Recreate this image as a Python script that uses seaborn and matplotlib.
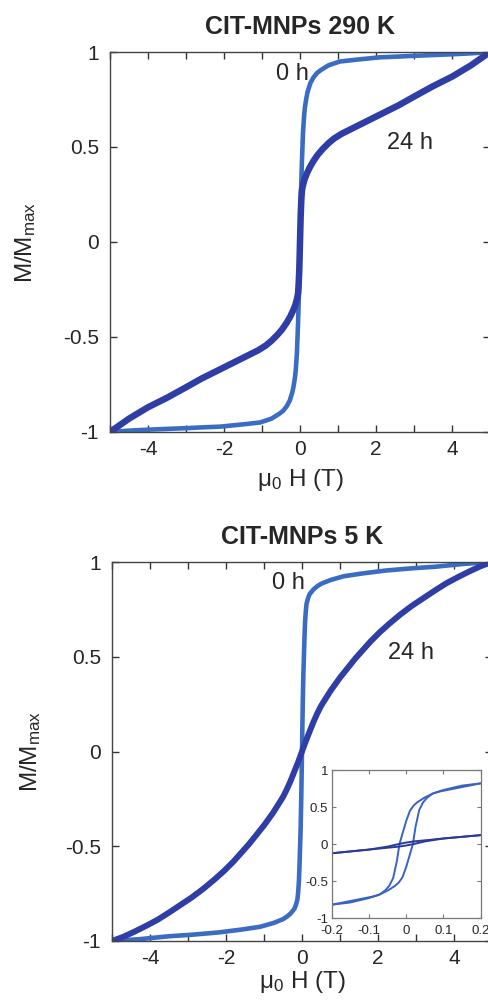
import numpy as np
import pandas as pd
import matplotlib
matplotlib.use("Agg")
import matplotlib.pyplot as plt
import seaborn as sns
from matplotlib.ticker import FixedLocator, FixedFormatter

# ---------------- data (positive-field half; loops are point-symmetric) ----------------
h_290_0h = [0, 0.01, 0.02, 0.035, 0.05, 0.08, 0.11, 0.13, 0.17, 0.2, 0.27, 0.35, 0.45, 0.55, 0.75,
            1.05, 1.5, 2.1, 2.6, 3.0, 3.5, 4.0, 4.5, 5.0]
m_290_0h = [0, 0.11, 0.2, 0.32, 0.42, 0.58, 0.67, 0.71, 0.76, 0.79, 0.835, 0.865, 0.89, 0.905, 0.93,
            0.95, 0.96, 0.972, 0.976, 0.98, 0.984, 0.988, 0.993, 1.0]
h_290_24h = [0, 0.01, 0.02, 0.035, 0.05, 0.08, 0.12, 0.18, 0.25, 0.35, 0.47, 0.6, 0.75, 0.9, 1.1, 1.3,
             1.5, 1.7, 2.0, 2.2, 2.6, 3.0, 3.5, 4.0, 4.5, 5.0]
m_290_24h = [0, 0.08, 0.15, 0.22, 0.27, 0.30, 0.33, 0.36, 0.39, 0.425, 0.46, 0.49, 0.52, 0.545, 0.57, 0.59,
             0.61, 0.63, 0.66, 0.68, 0.72, 0.765, 0.82, 0.87, 0.93, 1.0]

h_5_0h = [0, 0.01, 0.02, 0.035, 0.05, 0.065, 0.08, 0.1, 0.12, 0.16, 0.2, 0.3, 0.4, 0.5, 0.75, 1.1,
          1.6, 2.2, 2.9, 3.5, 4.25, 5.0]
m_5_0h = [0, 0.13, 0.25, 0.40, 0.50, 0.60, 0.68, 0.74, 0.78, 0.81, 0.83, 0.855, 0.872, 0.885, 0.905, 0.925,
          0.94, 0.955, 0.967, 0.975, 0.99, 1.0]
h_5_24h = [0, 0.1, 0.2, 0.3, 0.4, 0.5, 0.75, 1.0, 1.2, 1.4, 1.6, 1.8, 2.05, 2.3, 2.6, 2.9, 3.2, 3.5,
           3.8, 4.1, 4.4, 4.7, 5.0]
m_5_24h = [0, 0.055, 0.105, 0.155, 0.2, 0.24, 0.32, 0.39, 0.44, 0.49, 0.535, 0.58, 0.63, 0.675, 0.725, 0.77,
           0.81, 0.85, 0.888, 0.92, 0.95, 0.978, 1.0]

# inset (5 K, low field) -- descending and ascending branches
hin_0h_desc = [0.2, 0.15, 0.1, 0.075, 0.05, 0.03, 0.02, 0.01, 0.0, -0.01, -0.018, -0.025, -0.035,
               -0.045, -0.055, -0.07, -0.09, -0.12, -0.16, -0.2]
min_0h_desc = [0.82, 0.79, 0.73, 0.69, 0.63, 0.565, 0.52, 0.45, 0.31, 0.14, 0.0, -0.23, -0.46,
               -0.56, -0.62, -0.68, -0.71, -0.74, -0.78, -0.82]
hin_0h_asc = [-0.2, -0.15, -0.1, -0.075, -0.05, -0.03, -0.02, -0.01, 0.0, 0.01, 0.018, 0.025, 0.035,
              0.045, 0.055, 0.07, 0.09, 0.12, 0.16, 0.2]
min_0h_asc = [-0.82, -0.79, -0.73, -0.69, -0.63, -0.565, -0.52, -0.45, -0.31, -0.14, 0.0, 0.23, 0.46,
              0.56, 0.62, 0.68, 0.71, 0.74, 0.78, 0.82]
hin_24h_desc = [0.2, 0.1, 0.05, 0.02, 0.0, -0.02, -0.05, -0.1, -0.2]
min_24h_desc = [0.12, 0.075, 0.05, 0.035, 0.02, 0.0, -0.035, -0.075, -0.125]
hin_24h_asc = [-0.2, -0.1, -0.05, -0.02, 0.0, 0.02, 0.05, 0.1, 0.2]
min_24h_asc = [-0.125, -0.075, -0.05, -0.035, -0.02, 0.0, 0.035, 0.075, 0.12]

titles = ["CIT-MNPs 290 K", "CIT-MNPs 5 K"]
xtick_vals = [-4, -2, 0, 2, 4]
xtick_labels = ["-4", "-2", "0", "2", "4"]
ytick_vals = [-1, -0.5, 0, 0.5, 1]
ytick_labels = ["-1", "-0.5", "0", "0.5", "1"]
in_xtick_vals = [-0.2, -0.1, 0, 0.1, 0.2]
in_xtick_labels = ["-0.2", "-0.1", "0", "0.1", "0.2"]

C0 = "#3a6cc4"   # 0 h
C24 = "#2e3ea6"  # 24 h

# ---------------- style ----------------
sns.set_theme(style="ticks")
plt.rcParams["font.family"] = ["Liberation Sans", "DejaVu Sans"]
plt.rcParams["mathtext.fontset"] = "custom"
plt.rcParams["mathtext.rm"] = "Liberation Sans"
plt.rcParams["mathtext.it"] = "Liberation Sans:italic"
plt.rcParams["axes.unicode_minus"] = False


def full_loop(h, m):
    h = np.asarray(h, float)
    m = np.asarray(m, float)
    return np.concatenate([-h[::-1], h[1:]]), np.concatenate([-m[::-1], m[1:]])


fig = plt.figure(figsize=(4.88, 10.02), dpi=100)
ax1 = fig.add_axes([0.2254, 0.5689, 0.7787, 0.3792])
ax2 = fig.add_axes([0.2295, 0.0609, 0.7787, 0.3782])

panels = [
    (ax1, (h_290_0h, m_290_0h), (h_290_24h, m_290_24h), 3.3, 4.7, titles[0],
     (-0.2, 0.884), (2.89, 0.52), -0.092, -0.189),
    (ax2, (h_5_0h, m_5_0h), (h_5_24h, m_5_24h), 3.3, 4.3, titles[1],
     (-0.37, 0.89), (2.87, 0.52), -0.074, -0.181),
]

for ax, d0, d24, lw0, lw24, title, p0, p24, xly, ylx in panels:
    H0, M0 = full_loop(*d0)
    H24, M24 = full_loop(*d24)
    df0 = pd.DataFrame({"H": H0, "M": M0})
    df24 = pd.DataFrame({"H": H24, "M": M24})
    sns.lineplot(data=df0, x="H", y="M", sort=False, estimator=None, color=C0,
                 linewidth=lw0, ax=ax, solid_capstyle="round", solid_joinstyle="round")
    sns.lineplot(data=df24, x="H", y="M", sort=False, estimator=None, color=C24,
                 linewidth=lw24, ax=ax, solid_capstyle="round", solid_joinstyle="round")
    ax.set_xlim(-5, 5)
    ax.set_ylim(-1, 1)
    ax.xaxis.set_major_locator(FixedLocator(xtick_vals))
    ax.xaxis.set_major_formatter(FixedFormatter(xtick_labels))
    ax.xaxis.set_minor_locator(FixedLocator([-5, -3, -1, 1, 3, 5]))
    ax.yaxis.set_major_locator(FixedLocator(ytick_vals))
    ax.yaxis.set_major_formatter(FixedFormatter(ytick_labels))
    ax.tick_params(which="both", direction="in", top=True, right=True,
                   length=5, width=1, color="#333333")
    ax.tick_params(axis="x", which="major", labelsize=15, pad=6)
    ax.tick_params(axis="y", which="major", labelsize=15, pad=8)
    for s in ax.spines.values():
        s.set_linewidth(1.0)
        s.set_color("#444444")
    ax.set_title(title, fontsize=18, fontweight="bold", pad=13)
    ax.set_xlabel(r"$\mathregular{\mu_0}$ H (T)", fontsize=17.5)
    ax.set_ylabel(r"M/M$\mathregular{_{max}}$", fontsize=17.5)
    ax.xaxis.set_label_coords(0.5, xly)
    ax.yaxis.set_label_coords(ylx, 0.5)
    ax.text(p0[0], p0[1], "0 h", fontsize=17, ha="center", va="center")
    ax.text(p24[0], p24[1], "24 h", fontsize=17, ha="center", va="center")

# ---------------- inset ----------------
axi = fig.add_axes([0.6797, 0.0838, 0.3053, 0.1477])
axi.set_facecolor("white")
ins = [
    (hin_0h_desc, min_0h_desc, "#3a62c2"),
    (hin_0h_asc, min_0h_asc, "#3a62c2"),
    (hin_24h_desc, min_24h_desc, "#2a3a9c"),
    (hin_24h_asc, min_24h_asc, "#2a3a9c"),
]
for hh, mm, c in ins:
    dfi = pd.DataFrame({"H": hh, "M": mm})
    sns.lineplot(data=dfi, x="H", y="M", sort=False, estimator=None, color=c,
                 linewidth=1.4, ax=axi, solid_joinstyle="round")
axi.set_xlim(-0.2, 0.2)
axi.set_ylim(-1, 1)
axi.xaxis.set_major_locator(FixedLocator(in_xtick_vals))
axi.xaxis.set_major_formatter(FixedFormatter(in_xtick_labels))
axi.yaxis.set_major_locator(FixedLocator(ytick_vals))
axi.yaxis.set_major_formatter(FixedFormatter(ytick_labels))
axi.tick_params(which="both", direction="in", top=True, right=True,
                length=3, width=0.8, color="#777777", labelsize=9.5)
axi.tick_params(axis="x", pad=5)
axi.tick_params(axis="y", pad=2.5)
for s in axi.spines.values():
    s.set_linewidth(0.9)
    s.set_color("#777777")
axi.set_xlabel("")
axi.set_ylabel("")

fig.savefig("out.png", dpi=100)
